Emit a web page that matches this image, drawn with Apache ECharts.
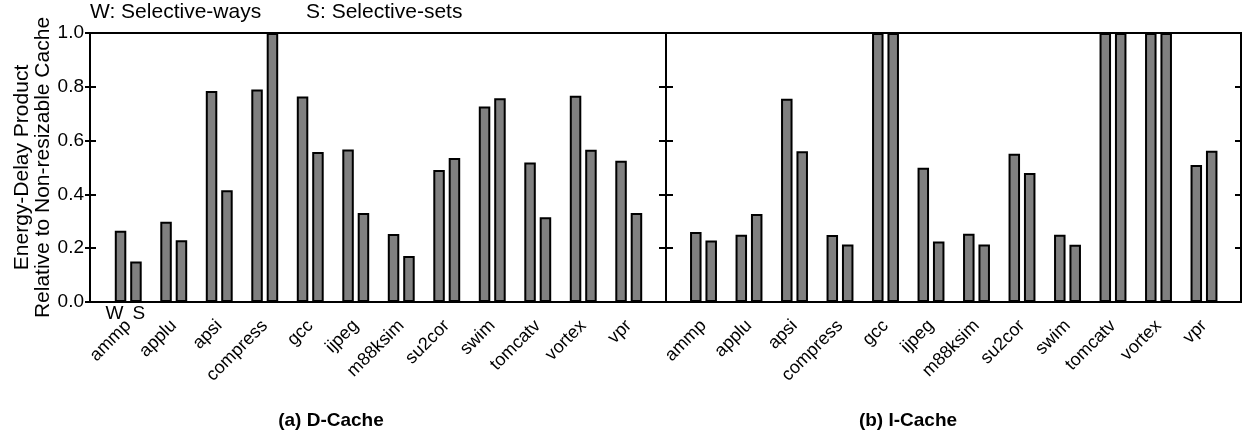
<!DOCTYPE html>
<html>
<head>
<meta charset="utf-8">
<script src="https://cdn.jsdelivr.net/npm/echarts@6/dist/echarts.min.js"></script>
<style>
  html, body { margin: 0; padding: 0; background: #fff; }
  #chart { width: 1242px; height: 431px; }
</style>
</head>
<body>
<div id="chart"></div>
<script>
// Benchmarks on the category axis
const benchmarks = ['ammp', 'applu', 'apsi', 'compress', 'gcc', 'ijpeg', 'm88ksim',
                    'su2cor', 'swim', 'tomcatv', 'vortex', 'vpr'];

// Energy-delay product relative to a non-resizable cache
// (a) D-Cache
const dCacheWays = [0.265, 0.298, 0.784, 0.790, 0.764, 0.567, 0.253, 0.491, 0.727, 0.519, 0.767, 0.525];
const dCacheSets = [0.151, 0.230, 0.415, 1.000, 0.558, 0.331, 0.171, 0.535, 0.757, 0.315, 0.566, 0.331];
// (b) I-Cache
const iCacheWays = [0.260, 0.250, 0.756, 0.249, 1.000, 0.499, 0.254, 0.551, 0.250, 1.000, 1.000, 0.509];
const iCacheSets = [0.229, 0.327, 0.560, 0.214, 1.000, 0.225, 0.214, 0.480, 0.213, 1.000, 1.000, 0.562];

const FONT = "'Liberation Sans', Arial, Helvetica, sans-serif";
const chart = echarts.init(document.getElementById('chart'), null, { renderer: 'canvas' });

const frameGrid = (left, width) => ({
  left: left, width: width, top: 33, height: 269,
  show: true, borderColor: '#000', borderWidth: 2, backgroundColor: 'transparent'
});
const barGrid = (left) => ({ left: left, width: 546, top: 33, height: 269 });

const hiddenValueX = (g) => ({ gridIndex: g, type: 'value', min: 0, max: 1, show: false });
const categoryX = (g) => ({
  gridIndex: g, type: 'category', data: benchmarks,
  axisLine: { show: false }, axisTick: { show: false },
  axisLabel: { rotate: 45, margin: 21, fontSize: 18, color: '#000', fontFamily: FONT }
});
const tickY = (g, pos, inside, len, extra) => Object.assign({
  gridIndex: g, type: 'value', position: pos, min: 0, max: 1, interval: 0.2,
  axisLine: { show: false }, splitLine: { show: false },
  axisTick: { show: true, inside: inside, length: len, lineStyle: { color: '#000', width: 2 } },
  axisLabel: { show: false }
}, extra || {});
const hiddenY = (g) => ({ gridIndex: g, type: 'value', min: 0, max: 1, show: false });

const barSeries = (name, xi, yi, data, labelText, labelShift) => ({
  name: name, type: 'bar', xAxisIndex: xi, yAxisIndex: yi,
  barWidth: 11.5, barGap: '34%',
  itemStyle: { color: '#808080', borderColor: '#000', borderWidth: 2 },
  data: data.map((v, i) => (labelText && i === 0) ? {
    value: v,
    label: {
      show: true, position: 'insideBottom', distance: 0, offset: [labelShift, 21],
      formatter: labelText, fontSize: 19, color: '#000', fontFamily: FONT
    }
  } : v)
});

const option = {
  animation: false,
  backgroundColor: '#fff',
  textStyle: { fontFamily: FONT },
  grid: [
    frameGrid(90, 576),   // (a) frame
    frameGrid(666, 575),  // (b) frame
    barGrid(105.5),       // (a) bars
    barGrid(680.75)       // (b) bars
  ],
  xAxis: [hiddenValueX(0), hiddenValueX(1), categoryX(2), categoryX(3)],
  yAxis: [
    tickY(0, 'left', true, 6, {
      axisLabel: { show: true, margin: 6, fontSize: 19, color: '#000', fontFamily: FONT,
                   formatter: (v) => v.toFixed(1) },
      name: 'Energy-Delay Product\nRelative to Non-resizable Cache',
      nameLocation: 'middle', nameGap: 34,
      nameTextStyle: { fontSize: 21, lineHeight: 21, color: '#000', fontFamily: FONT }
    }),
    tickY(0, 'left', false, 5),
    tickY(0, 'right', true, 7),
    tickY(1, 'left', true, 7),
    tickY(1, 'right', true, 6),
    hiddenY(2), hiddenY(3)
  ],
  series: [
    barSeries('Selective-ways', 2, 5, dCacheWays, 'W', -6),
    barSeries('Selective-sets', 2, 5, dCacheSets, 'S', 3),
    barSeries('Selective-ways', 3, 6, iCacheWays),
    barSeries('Selective-sets', 3, 6, iCacheSets)
  ],
  graphic: [
    { type: 'text', left: 90, top: 2,
      style: { text: 'W: Selective-ways', font: '21px ' + FONT, fill: '#000' } },
    { type: 'text', left: 306, top: 2,
      style: { text: 'S: Selective-sets', font: '21px ' + FONT, fill: '#000' } },
    { type: 'text', x: 331, y: 421,
      style: { text: '(a) D-Cache', font: 'bold 19px ' + FONT, fill: '#000',
               textAlign: 'center', textVerticalAlign: 'middle' } },
    { type: 'text', x: 908, y: 421,
      style: { text: '(b) I-Cache', font: 'bold 19px ' + FONT, fill: '#000',
               textAlign: 'center', textVerticalAlign: 'middle' } }
  ]
};

chart.setOption(option);
</script>
</body>
</html>
